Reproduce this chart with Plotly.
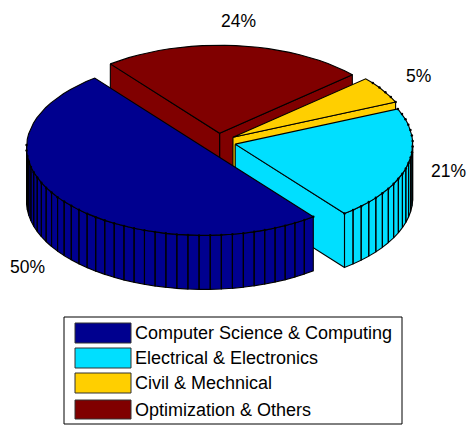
import math
import plotly.graph_objects as go

categories = ["Computer Science & Computing", "Electrical & Electronics", "Civil & Mechnical", "Optimization & Others"]
shares = [50, 21, 5, 24]
pct_labels = ["50%", "21%", "5%", "24%"]
colors = ["#00008F", "#00DFFF", "#FFCF00", "#800000"]
label_xy = [(27, 267), (448, 171), (418, 76), (238, 21)]

W, H = 468, 426
CX, CY, A, B = 218, 142, 177.5, 88
DEPTH, EXPLODE = 54, 0.10
START_DEG = 128
FONT = "Liberation Sans, Arial, sans-serif"

fig = go.Figure()


def poly(xs, ys, fill, line_w=1.1):
    fig.add_trace(go.Scatter(x=xs, y=ys, mode="lines", fill="toself", fillcolor=fill,
                             line=dict(color="black", width=line_w), hoverinfo="skip", showlegend=False))


# build slices in the order of the data, counter-clockwise from the start angle
slices = []
ang = START_DEG
for share, col in zip(shares, colors):
    span = 360 * share / sum(shares)
    mid = math.radians(ang + span / 2)
    ox = CX + EXPLODE * A * math.cos(mid)
    oy = CY - EXPLODE * B * math.sin(mid)
    ts = [math.radians(ang + span * i / share) for i in range(share + 1)]
    rx = [ox + A * math.cos(t) for t in ts]
    ry = [oy - B * math.sin(t) for t in ts]
    slices.append(dict(col=col, ox=ox, oy=oy, rx=rx, ry=ry, ts=ts))
    ang += span

# painter's order: back to front
for s in [slices[3], slices[2], slices[1], slices[0]]:
    col, ox, oy, rx, ry, ts = s["col"], s["ox"], s["oy"], s["rx"], s["ry"], s["ts"]
    # outer wall: front-facing segments only
    qx, qy = [], []
    for i in range(len(ts) - 1):
        if math.sin(ts[i]) < 0 or math.sin(ts[i + 1]) < 0:
            qx += [rx[i], rx[i + 1], rx[i + 1], rx[i], rx[i], None]
            qy += [ry[i], ry[i + 1], ry[i + 1] + DEPTH, ry[i] + DEPTH, ry[i], None]
    if qx:
        fig.add_trace(go.Scatter(x=qx, y=qy, mode="lines", fill="toself", fillcolor=col,
                                 line=dict(color="black", width=1.1), hoverinfo="skip", showlegend=False))
    # the cut faces that look towards the viewer
    if math.cos(ts[0]) > 0:
        poly([ox, rx[0], rx[0], ox, ox], [oy, ry[0], ry[0] + DEPTH, oy + DEPTH, oy], col)
    if math.cos(ts[-1]) < 0:
        poly([ox, rx[-1], rx[-1], ox, ox], [oy, ry[-1], ry[-1] + DEPTH, oy + DEPTH, oy], col)
    # top face
    poly([ox] + rx + [ox], [oy] + ry + [oy], col)
    # small dots where the facets meet along the rim
    dx = [x for x, t in zip(rx, ts) if math.sin(t) < 0.65 and (math.cos(t) > 0 or math.sin(t) < 0.05)]
    dy = [y for y, t in zip(ry, ts) if math.sin(t) < 0.65 and (math.cos(t) > 0 or math.sin(t) < 0.05)]
    fig.add_trace(go.Scatter(x=dx, y=dy, mode="markers", marker=dict(color="black", size=2.5),
                             hoverinfo="skip", showlegend=False))

# percentage labels
for txt, (lx, ly) in zip(pct_labels, label_xy):
    fig.add_annotation(x=lx, y=ly, text=txt, showarrow=False, xanchor="center", yanchor="middle",
                       font=dict(family=FONT, size=17.5, color="black"))

# legend box
shapes = [dict(type="rect", xref="x", yref="y", x0=64, x1=402, y0=317, y1=424,
               line=dict(color="black", width=1), fillcolor="white", layer="above")]
row_y = [(323, 343), (348, 368), (373, 393), (400, 419)]
for cat, col, (y0, y1) in zip(categories, colors, row_y):
    shapes.append(dict(type="rect", xref="x", yref="y", x0=75, x1=131, y0=y0, y1=y1,
                       line=dict(color="#333333", width=1), fillcolor=col, layer="above"))
    fig.add_annotation(x=133, y=(y0 + y1) / 2, text=cat, showarrow=False, xanchor="left", yanchor="middle",
                       font=dict(family=FONT, size=18, color="black"))

fig.update_layout(
    width=W, height=H, margin=dict(l=0, r=0, t=0, b=0), paper_bgcolor="white", plot_bgcolor="white",
    showlegend=False, shapes=shapes,
    xaxis=dict(range=[0, W], visible=False, fixedrange=True),
    yaxis=dict(range=[H, 0], visible=False, fixedrange=True),
)
fig.write_html("out.html", config=dict(displayModeBar=False),
               post_script='document.body.style.margin="0";')
